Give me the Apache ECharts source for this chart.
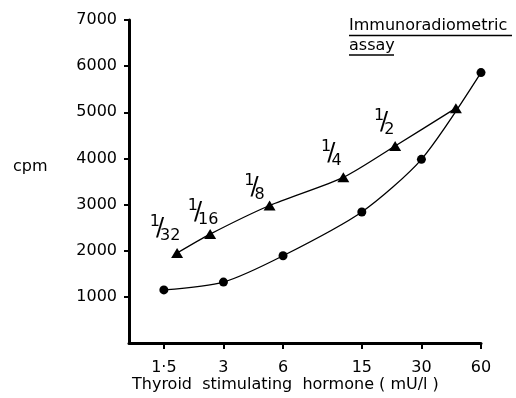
<!DOCTYPE html>
<html><head><meta charset="utf-8">
<script src="https://cdn.jsdelivr.net/npm/echarts@6/dist/echarts.min.js"></script>
<style>html,body{margin:0;padding:0;background:#fff}#c{width:516px;height:398px}</style>
</head><body><div id="c"></div>
<script>
// ---- data ----
const tshDoses = [1.5, 3, 6, 15, 30, 60];
const irmaCpm = [1150, 1320, 1890, 2840, 3980, 5860];
const dilutionTsh = [1.75, 2.57, 5.13, 12.1, 22.1, 44.8];
const dilutionCpm = [1950, 2360, 2980, 3590, 4270, 5090];
const dilutionNames = ['1/32', '1/16', '1/8', '1/4', '1/2', ''];
const xTickValues = [1.5, 3, 6, 15, 30, 60];
const xTickLabels = ['1·5', '3', '6', '15', '30', '60'];
const yAxisName = 'cpm';
const xAxisName = 'Thyroid  stimulating  hormone ( mU/l )';
const titleLines = ['Immunoradiometric', 'assay'];

// ---- styles ----
const FONT = 'DejaVu Sans';
const labelOffsets = [[-12, -24], [-7, -21], [-15, -18], [-12, -24], [-11, -23], [0, 0]];

function frac(s) {
  if (!s) return '';
  const p = s.split('/');
  return '{n|' + p[0] + '}{s|/}{d|' + p[1] + '}';
}

const chart = echarts.init(document.getElementById('c'), null, {renderer: 'canvas'});
const option = {
  animation: false,
  backgroundColor: '#fff',
  grid: {left: 129, right: 35, top: 20, bottom: 55},
  xAxis: {
    type: 'log', logBase: 10, min: 1, max: 60,
    axisLine: {lineStyle: {color: '#000', width: 3}},
    axisTick: {show: true, length: 6, lineStyle: {color: '#000', width: 2}, customValues: xTickValues},
    axisLabel: {
      customValues: xTickValues, margin: 17, color: '#000', fontFamily: FONT, fontSize: 16,
      formatter: v => { const i = xTickValues.findIndex(t => Math.abs(t - v) < 1e-6); return i >= 0 ? xTickLabels[i] : ''; }
    },
    splitLine: {show: false}, minorTick: {show: false}
  },
  yAxis: {
    type: 'value', min: 0, max: 7000, interval: 1000,
    axisLine: {show: true, lineStyle: {color: '#000', width: 3}},
    axisTick: {show: true, length: 5, lineStyle: {color: '#000', width: 2}},
    axisLabel: {margin: 12, color: '#000', fontFamily: FONT, fontSize: 16, showMinLabel: false,
      formatter: v => v === 0 ? '' : String(v)},
    splitLine: {show: false}
  },
  series: [
    {
      type: 'line', smooth: 0.25,
      data: tshDoses.map((x, i) => [x, irmaCpm[i]]),
      symbol: 'circle', symbolSize: 9,
      itemStyle: {color: '#000'},
      lineStyle: {color: '#000', width: 1.3}
    },
    {
      type: 'line', smooth: 0.25,
      data: dilutionTsh.map((x, i) => ({
        value: [x, dilutionCpm[i]],
        label: {show: !!dilutionNames[i], offset: labelOffsets[i]}
      })),
      symbol: 'triangle', symbolSize: [12, 10],
      itemStyle: {color: '#000'},
      lineStyle: {color: '#000', width: 1.3},
      label: {
        show: true, position: 'inside', align: 'center', verticalAlign: 'middle',
        formatter: p => frac(dilutionNames[p.dataIndex]),
        rich: {
          n: {fontFamily: FONT, fontSize: 16, color: '#000', lineHeight: 16, verticalAlign: 'top'},
          s: {fontFamily: FONT, fontSize: 24, color: '#000', lineHeight: 30, verticalAlign: 'middle', padding: [0, -4, 0, -4]},
          d: {fontFamily: FONT, fontSize: 16, color: '#000', lineHeight: 16, verticalAlign: 'bottom'}
        }
      }
    }
  ],
  graphic: [
    {type: 'text', left: 13, top: 159, style: {text: yAxisName, font: '16px "DejaVu Sans"', fill: '#000'}},
    {type: 'text', left: 132, top: 377, style: {text: xAxisName, font: '16px "DejaVu Sans"', fill: '#000'}},
    {type: 'text', left: 349, top: 18, style: {text: titleLines[0], font: '16px "DejaVu Sans"', fill: '#000'}},
    {type: 'text', left: 349, top: 38, style: {text: titleLines[1], font: '16px "DejaVu Sans"', fill: '#000'}},
    {type: 'line', shape: {x1: 349, y1: 35.5, x2: 512, y2: 35.5}, style: {stroke: '#000', lineWidth: 1.5}},
    {type: 'line', shape: {x1: 349, y1: 55, x2: 394, y2: 55}, style: {stroke: '#000', lineWidth: 1.5}}
  ]
};
chart.setOption(option);
</script>
</body></html>
